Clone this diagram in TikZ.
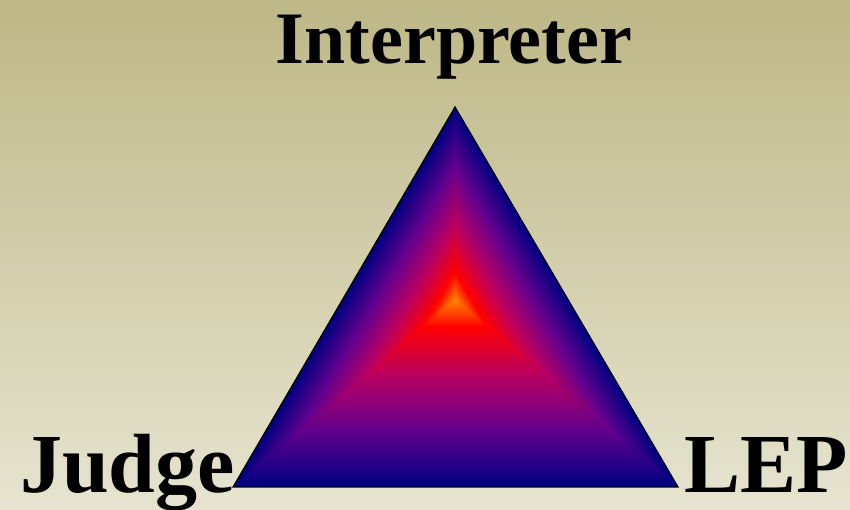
\documentclass[tikz,border=0pt]{standalone}
\usepackage{fontspec}
\setmainfont{Liberation Serif}
\usetikzlibrary{calc}
\usepackage{xcolor}
\definecolor{bgtop}{RGB}{190,183,134}
\definecolor{bgbottom}{RGB}{230,228,208}
\definecolor{tnavy}{RGB}{0,0,128}
\definecolor{tpurple}{RGB}{100,0,142}
\definecolor{tcrimson}{RGB}{188,0,96}
\definecolor{tred}{RGB}{255,0,0}
\definecolor{torange}{RGB}{255,140,0}

\begin{document}
\begin{tikzpicture}[
    x=1pt, y=1pt,
    role/.style={inner sep=0pt, font=\bfseries\fontsize{74}{80}\selectfont},
    bigrole/.style={inner sep=0pt, font=\bfseries\fontsize{84}{90}\selectfont},
]
\useasboundingbox (0,0) rectangle (850,510);

% Background
\shade[top color=bgtop, bottom color=bgbottom] (0,0) rectangle (850,510);

% Triangle corners and focus of the shading
\coordinate (A) at (455,403);
\coordinate (B) at (233,23);
\coordinate (C) at (678,23);
\coordinate (F) at (455,210);

% Nested triangles, navy at the rim to orange at the focus
\foreach \ca/\cb/\ta/\tb in {tnavy/tpurple/0/30, tpurple/tcrimson/30/60, tcrimson/tred/60/85, tred/torange/85/100} {
    \foreach \k in {\ta,...,\tb} {
        \pgfmathtruncatemacro{\p}{100*(\k-\ta)/(\tb-\ta)}
        \pgfmathsetmacro{\s}{1-\k/100}
        \fill[\cb!\p!\ca] ($(F)!\s!(A)$) -- ($(F)!\s!(B)$) -- ($(F)!\s!(C)$) -- cycle;
    }
}
\draw[line width=1.2pt, line join=miter] (A) -- (B) -- (C) -- cycle;

% Labels
\node[role, anchor=base] (interp) at (454,446) {Interpreter};
\node[bigrole, anchor=base east] (judge) at (235,17) {Judge};
\node[bigrole, anchor=base west] (lep) at (684,17) {LEP};

\end{tikzpicture}
\end{document}
